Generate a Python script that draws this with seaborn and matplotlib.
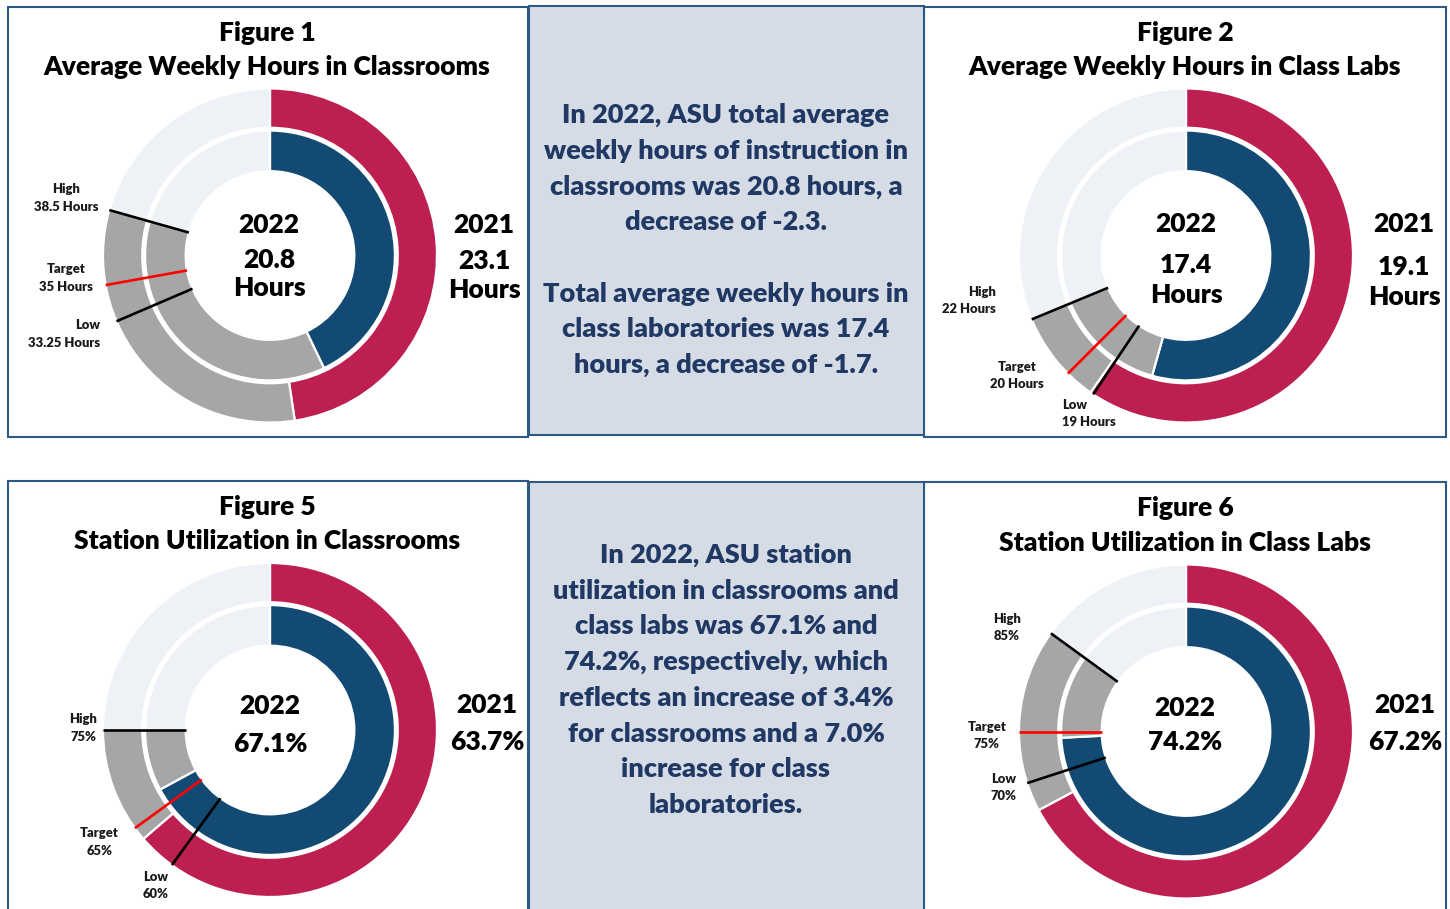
import numpy as np
import matplotlib
matplotlib.use("Agg")
import matplotlib.pyplot as plt
from matplotlib.patches import Rectangle
import seaborn as sns

# ---- data ----
fig_numbers = ["Figure 1", "Figure 2", "Figure 5", "Figure 6"]
fig_titles = ["Average Weekly Hours in Classrooms",
              "Average Weekly Hours in Class Labs",
              "Station Utilization in Classrooms",
              "Station Utilization in Class Labs"]
value_2021 = [23.1, 19.1, 63.7, 67.2]
value_2022 = [20.8, 17.4, 67.1, 74.2]
high = [38.5, 22, 75, 85]
target = [35, 20, 65, 75]
low = [33.25, 19, 60, 70]
full_scale = [48.5, 32, 100, 100]
is_hours = [True, True, False, False]

text_top = ["In 2022, ASU total average",
            "weekly hours of instruction in",
            "classrooms was 20.8 hours, a",
            "decrease of -2.3.",
            "",
            "Total average weekly hours in",
            "class laboratories was 17.4",
            "hours, a decrease of -1.7."]
text_bottom = ["In 2022, ASU station",
               "utilization in classrooms and",
               "class labs was 67.1% and",
               "74.2%, respectively, which",
               "reflects an increase of 3.4%",
               "for classrooms and a 7.0%",
               "increase for class",
               "laboratories."]

# ---- colours ----
CRIMSON = "#BD1F51"
NAVY = "#134A74"
GRAY = "#A6A6A6"
LIGHT = "#EEF1F5"
BOX_FILL = "#D6DCE5"
BORDER = "#2E5886"
BOX_TEXT = "#203864"

# ---- layout (pixels in a 1450x909 canvas) ----
W, H = 1450, 909
centers = [(270, 255.5), (1186, 255.5), (270, 730), (1186, 731.5)]
R_PX = 167
title_y = [(33, 67), (33, 67), (507, 541), (508, 543)]
title_x = [267, 1185, 267, 1185]
# baselines of the "2022" block and the "2021" block
inner_pos = [(269, [232.7, 268.3, 296]), (1186, [231.7, 272.7, 303.3]),
             (270, [714.3, 751.7]), (1185, [716, 750])]
outer_pos = [(484, [233.3, 269.3, 298.3]), (1404, [232.3, 275, 305]),
             (487, [713.3, 750]), (1405, [713.3, 750])]
# (x, y, ha) for the High / Target / Low notes
note_pos = [[(66, 198, "center"), (66, 278, "center"), (100.5, 334, "right")],
            [(996, 300.5, "right"), (1017, 375.5, "center"), (1062, 413.5, "left")],
            [(97, 728, "right"), (99.5, 842, "center"), (155.5, 885.5, "center")],
            [(1007, 627.5, "center"), (987, 735.5, "center"), (1003.5, 787.5, "center")]]
panels = [(8, 7, 528, 437), (924, 7, 1446, 437), (8, 481, 528, 915), (924, 482, 1446, 915)]
mid_boxes = [(529, 6, 924, 435), (529, 482, 924, 915)]

sns.set_theme(style="white")
plt.rcParams["font.family"] = ["Lato", "DejaVu Sans"]

fig = plt.figure(figsize=(W / 100, H / 100), dpi=100)
fig.patch.set_facecolor("white")
bg = fig.add_axes([0, 0, 1, 1])
bg.set_xlim(0, W)
bg.set_ylim(H, 0)
bg.axis("off")

for (x0, y0, x1, y1) in panels:
    bg.add_patch(Rectangle((x0, y0), x1 - x0, y1 - y0, facecolor="white",
                           edgecolor=BORDER, lw=1.5, zorder=0))
for (x0, y0, x1, y1) in mid_boxes:
    bg.add_patch(Rectangle((x0, y0), x1 - x0, y1 - y0, facecolor=BOX_FILL,
                           edgecolor=BORDER, lw=1.5, zorder=1))

BIG = 19
BOX = 19.5
SMALL = 9.4
WEIGHT = "heavy"

for i in range(4):
    cx, cy = centers[i]
    ax = fig.add_axes([(cx - R_PX) / W, 1 - (cy + R_PX) / H, 2 * R_PX / W, 2 * R_PX / H])
    tot = full_scale[i]
    outer = [value_2021[i], high[i] - value_2021[i], tot - high[i]]
    inner = [value_2022[i], high[i] - value_2022[i], tot - high[i]]
    ax.pie(outer, radius=1.0, startangle=90, counterclock=False,
           colors=[CRIMSON, GRAY, LIGHT],
           wedgeprops=dict(width=0.235, edgecolor="white", linewidth=1.6))
    ax.pie(inner, radius=0.748, startangle=90, counterclock=False,
           colors=[NAVY, GRAY, LIGHT],
           wedgeprops=dict(width=0.243, edgecolor="white", linewidth=1.6))
    for v, c in zip([high[i], target[i], low[i]], ["black", "red", "black"]):
        ang = np.deg2rad(90 - v / tot * 360)
        r = np.array([0.505, 1.0])
        ax.plot(r * np.cos(ang), r * np.sin(ang), color=c, lw=1.9, zorder=5,
                solid_capstyle="butt")
    ax.set_xlim(-1, 1)
    ax.set_ylim(-1, 1)
    ax.set_aspect("equal")
    ax.axis("off")

    # titles
    bg.text(title_x[i], title_y[i][0], fig_numbers[i], ha="center", va="center",
            fontsize=BIG, fontweight=WEIGHT, color="black")
    bg.text(title_x[i], title_y[i][1], fig_titles[i], ha="center", va="center",
            fontsize=BIG, fontweight=WEIGHT, color="black")

    # centre / side values
    if is_hours[i]:
        in_lines = ["2022", f"{value_2022[i]:.1f}", "Hours"]
        out_lines = ["2021", f"{value_2021[i]:.1f}", "Hours"]
    else:
        in_lines = ["2022", f"{value_2022[i]:.1f}%"]
        out_lines = ["2021", f"{value_2021[i]:.1f}%"]
    x, ys = inner_pos[i]
    for s, y in zip(in_lines, ys):
        bg.text(x, y, s, ha="center", va="baseline", fontsize=BIG,
                fontweight=WEIGHT, color="black")
    x, ys = outer_pos[i]
    for s, y in zip(out_lines, ys):
        bg.text(x, y, s, ha="center", va="baseline", fontsize=BIG,
                fontweight=WEIGHT, color="black")

    # High / Target / Low notes
    for name, v, (x, y, ha) in zip(["High", "Target", "Low"],
                                   [high[i], target[i], low[i]], note_pos[i]):
        vs = f"{v:g} Hours" if is_hours[i] else f"{v:g}%"
        bg.text(x, y, f"{name}\n{vs}", ha=ha, va="center", multialignment=ha,
                fontsize=SMALL, fontweight=WEIGHT, color="#1a1a1a", linespacing=1.55)

for lines, y0 in [(text_top, 115), (text_bottom, 555)]:
    for k, s in enumerate(lines):
        if s:
            bg.text(726, y0 + k * 35.7, s, ha="center", va="center",
                    fontsize=BOX, fontweight=WEIGHT, color=BOX_TEXT)

fig.savefig("out.png", dpi=100)
